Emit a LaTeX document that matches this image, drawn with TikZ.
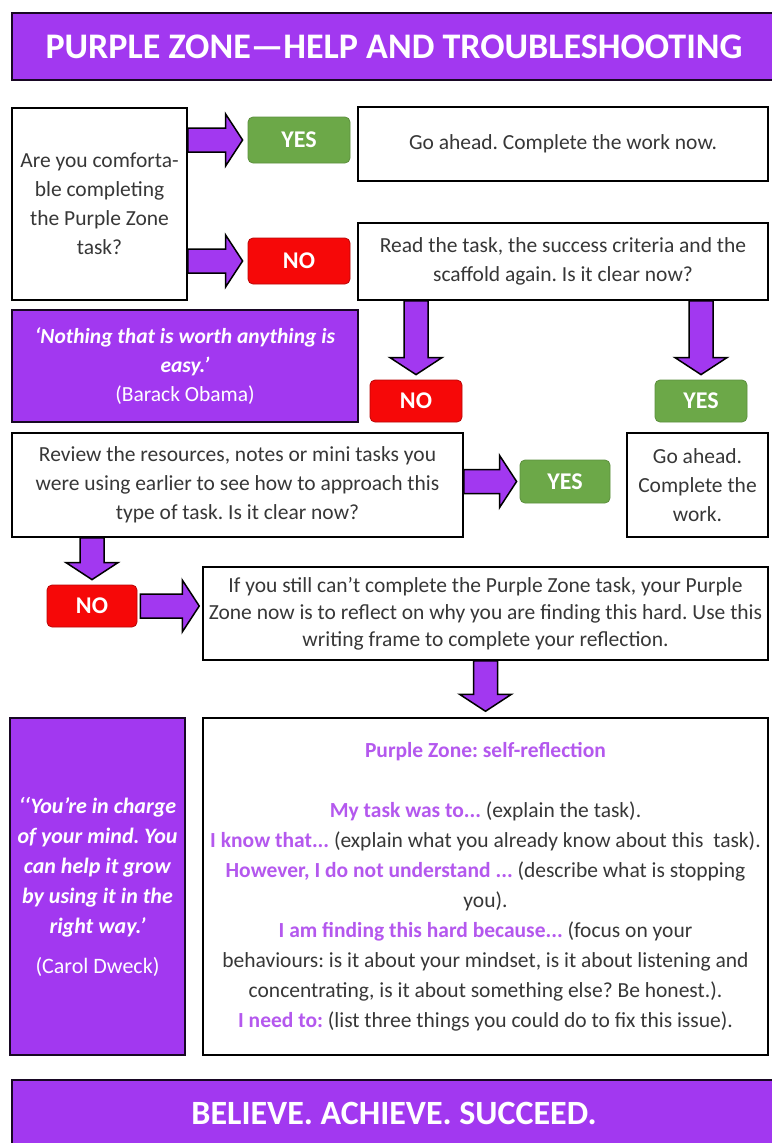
\documentclass[tikz,border=0pt]{standalone}
\usepackage{fontspec}
\setmainfont{Carlito}
\usetikzlibrary{calc}
\frenchspacing

\definecolor{zonepurple}{RGB}{162,56,240}
\definecolor{promptpurple}{RGB}{180,88,238}
\definecolor{yesgreen}{RGB}{108,168,72}
\definecolor{nored}{RGB}{246,8,8}
\definecolor{bodygray}{RGB}{55,55,55}

\tikzstyle{whitebox} = [rectangle, draw=black, line width=1.5pt, fill=white, text=bodygray, align=center, inner sep=0pt, font=\fontsize{21.5}{29}\selectfont]
\tikzstyle{purplebox} = [rectangle, draw=black!85!zonepurple, line width=1.8pt, fill=zonepurple, text=white, align=center, inner sep=0pt, font=\fontsize{21.5}{29}\selectfont]
\tikzstyle{yesbox} = [rectangle, rounded corners=5pt, fill=yesgreen, draw=yesgreen!85!black, line width=0.8pt, text=white, font=\fontsize{24}{26}\selectfont\bfseries, minimum width=102pt, minimum height=46pt]
\tikzstyle{nobox} = [yesbox, fill=nored, draw=nored!75!black]
\tikzstyle{fatarrow} = [draw=black, line width=1.5pt, fill=zonepurple, line join=miter]

% purple block arrow from #1 to the tip #2
\newcommand{\purplearrow}[2]{%
  \coordinate (pa-s) at (#1);
  \coordinate (pa-t) at (#2);
  \coordinate (pa-b) at ($(pa-t)!17pt!(pa-s)$);
  \draw [fatarrow] ($(pa-s)!12pt!90:(pa-t)$) -- ($(pa-b)!12pt!-90:(pa-s)$)
    -- ($(pa-b)!26pt!-90:(pa-s)$) -- (pa-t) -- ($(pa-b)!26pt!90:(pa-s)$)
    -- ($(pa-b)!12pt!90:(pa-s)$) -- ($(pa-s)!12pt!-90:(pa-t)$) -- cycle;
}
\newcommand{\quoteline}[1]{\textbf{\textit{#1}}}
\newcommand{\prompt}[1]{\textcolor{promptpurple}{\bfseries #1}}

\begin{document}
\begin{tikzpicture}[x=1pt, y=-1pt]
  \useasboundingbox (0,0) rectangle (771,1143);

  \node (title) [purplebox, minimum width=764pt, minimum height=67pt, font=\fontsize{36}{38}\selectfont\bfseries] at (394,46.5) {PURPLE ZONE—HELP AND TROUBLESHOOTING};

  % first question
  \node (comfort) [whitebox, minimum width=175pt, minimum height=192pt] at (99.5,204) {Are you comforta-\\ble completing\\the Purple Zone\\task?};
  \node (yes1) [yesbox] at (299,140) {YES};
  \node (no1) [nobox] at (299,261) {NO};
  \node (go1) [whitebox, minimum width=410pt, minimum height=74pt] at (563,144) {Go ahead. Complete the work now.};
  \node (reread) [whitebox, minimum width=410pt, minimum height=77pt] at (563,261.5) {Read the task, the success criteria and the\\scaffold again. Is it clear now?};

  % second question
  \node (obama) [purplebox, minimum width=346pt, minimum height=112pt] at (185,366) {\quoteline{‘Nothing that is worth anything is}\\\quoteline{easy.’}\\(Barack Obama)};
  \node (no2) [nobox, minimum width=92pt, minimum height=42pt] at (416,401) {NO};
  \node (yes2) [yesbox, minimum width=92pt, minimum height=42pt] at (701,401) {YES};
  \node (review) [whitebox, minimum width=451pt, minimum height=104pt] at (237.5,485) {Review the resources, notes or mini tasks you\\were using earlier to see how to approach this\\type of task. Is it clear now?};
  \node (yes3) [yesbox, minimum width=90pt, minimum height=43pt] at (565,481.5) {YES};
  \node (go2) [whitebox, minimum width=141pt, minimum height=104pt] at (697.5,485) {Go ahead.\\Complete the\\work.};

  % reflection
  \node (no3) [nobox, minimum width=90pt, minimum height=42pt] at (92,606) {NO};
  \node (reflect) [whitebox, minimum width=565pt, minimum height=93pt, font=\fontsize{21.5}{27}\selectfont] at (485.5,613.5) {If you still can’t complete the Purple Zone task, your Purple\\Zone now is to reflect on why you are finding this hard. Use this\\writing frame to complete your reflection.};
  \coordinate (reflect-in) at (reflect.west |- no3);
  \node (dweck) [purplebox, minimum width=175pt, minimum height=337pt, font=\fontsize{22}{30}\selectfont] at (97.5,886.5) {\quoteline{‘‘You’re in charge}\\\quoteline{of your mind. You}\\\quoteline{can help it grow}\\\quoteline{by using it in the}\\\quoteline{right way.’}\\[10pt](Carol Dweck)};
  \node (selfref) [whitebox, minimum width=565pt, minimum height=337pt, font=\fontsize{21.5}{30}\selectfont] at (485.5,886.5) {\prompt{Purple Zone: self-reflection}\\[30pt]
    \prompt{My task was to...} (explain the task).\\
    \prompt{I know that...} (explain what you already know about this\ \ task).\\
    \prompt{However, I do not understand ...} (describe what is stopping\\
    you).\\
    \prompt{I am finding this hard because...} (focus on your\\
    behaviours: is it about your mindset, is it about listening and\\
    concentrating, is it about something else? Be honest.).\\
    \prompt{I need to:} (list three things you could do to fix this issue).};

  \node (motto) [purplebox, minimum width=764pt, minimum height=66pt, font=\fontsize{34}{36}\selectfont\bfseries] at (394,1113) {BELIEVE. ACHIEVE. SUCCEED.};

  % arrows
  \purplearrow{comfort.east |- yes1}{[xshift=-5pt]yes1.west}
  \purplearrow{comfort.east |- no1}{[xshift=-5pt]no1.west}
  \purplearrow{reread.south -| no2}{[yshift=5pt]no2.north}
  \purplearrow{reread.south -| yes2}{[yshift=5pt]yes2.north}
  \purplearrow{review.east |- yes3}{[xshift=-3pt]yes3.west}
  \purplearrow{review.south -| no3}{[yshift=5pt]no3.north}
  \purplearrow{[xshift=3pt]no3.east}{[xshift=-3pt]reflect-in}
  \purplearrow{reflect.south}{[yshift=6pt]selfref.north}
\end{tikzpicture}
\end{document}
